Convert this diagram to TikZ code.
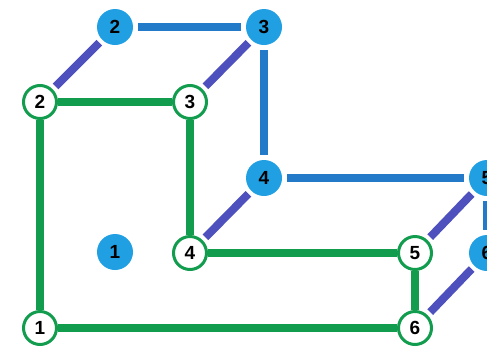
\documentclass[tikz,border=0pt]{standalone}
\usepackage{fontspec}
\setmainfont{Liberation Sans}
\definecolor{verde}{RGB}{18,156,78}
\definecolor{celeste}{RGB}{32,160,226}
\definecolor{azul}{RGB}{34,122,200}
\definecolor{violeta}{RGB}{78,80,190}
\tikzset{
  nodoverde/.style={circle, draw=verde, line width=3pt, fill=white, minimum size=33pt, inner sep=0pt, font=\fontsize{19}{19}\selectfont\bfseries},
  nodoazul/.style={circle, fill=celeste, minimum size=36pt, inner sep=0pt, font=\fontsize{19}{19}\selectfont\bfseries},
  aristaverde/.style={verde, line width=8pt},
  aristaazul/.style={azul, line width=8pt, shorten >=5pt, shorten <=5pt},
  aristavioleta/.style={violeta, line width=8pt, shorten >=4pt, shorten <=4pt}
}
\begin{document}
\begin{tikzpicture}[x=1pt, y=-1pt]
        \useasboundingbox (0,0) rectangle (487,349);
        \clip (0,0) rectangle (487,349);
        
        % Vertices del grafo verde
        \node[nodoverde] (g1) at (40,328) {1};
        \node[nodoverde] (g2) at (40,102) {2};
        \node[nodoverde] (g3) at (190,102) {3};
        \node[nodoverde] (g4) at (190,253) {4};
        \node[nodoverde] (g5) at (415,253) {5};
        \node[nodoverde] (g6) at (415,328) {6};
        
        % Vertices del grafo azul
        \node[nodoazul] (b1) at (115,252) {1};
        \node[nodoazul] (b2) at (115,27) {2};
        \node[nodoazul] (b3) at (264,27) {3};
        \node[nodoazul] (b4) at (264,178) {4};
        \node[nodoazul] (b5) at (487,178) {5};
        \node[nodoazul] (b6) at (487,253) {6};
        
        % Aristas verdes
        \draw[aristaverde] (g1) -- (g2);
        \draw[aristaverde] (g2) -- (g3);
        \draw[aristaverde] (g3) -- (g4);
        \draw[aristaverde] (g4) -- (g5);
        \draw[aristaverde] (g5) -- (g6);
        \draw[aristaverde] (g6) -- (g1);
        
        % Aristas azules
        \draw[aristaazul] (b2) -- (b3);
        \draw[aristaazul] (b3) -- (b4);
        \draw[aristaazul] (b4) -- (b5);
        \draw[aristaazul] (b5) -- (b6);
        
        % Correspondencia entre ambos grafos
        \draw[aristavioleta] (g2) -- (b2);
        \draw[aristavioleta] (g3) -- (b3);
        \draw[aristavioleta] (g4) -- (b4);
        \draw[aristavioleta] (g5) -- (b5);
        \draw[aristavioleta] (g6) -- (b6);
    \end{tikzpicture}
\end{document}
